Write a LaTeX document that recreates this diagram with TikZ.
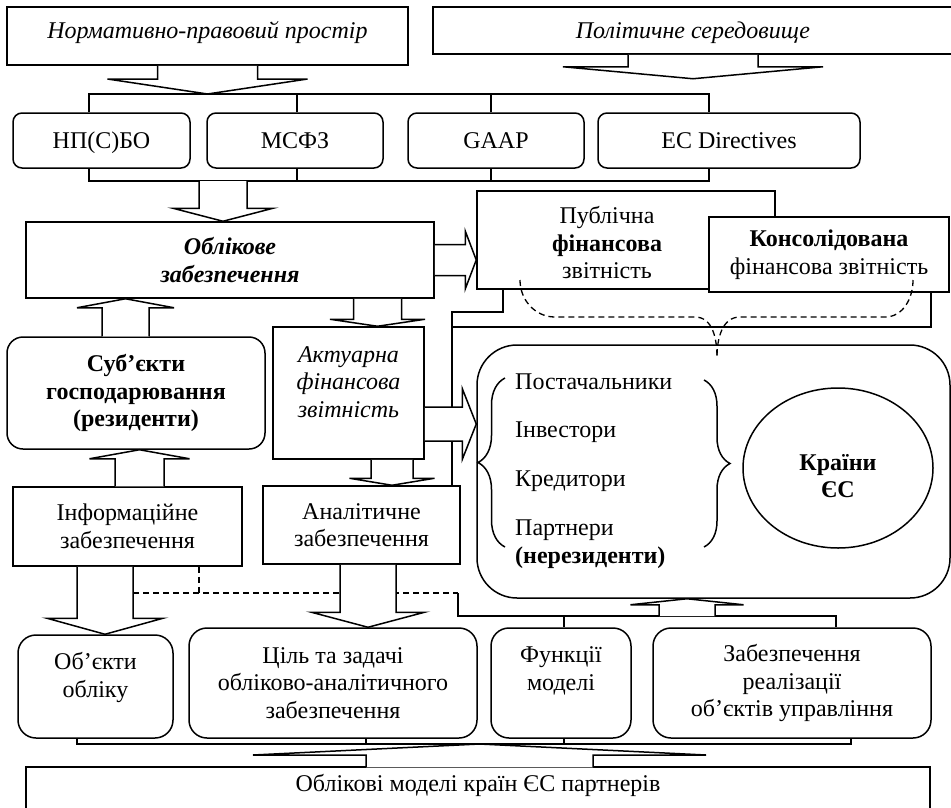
\documentclass[tikz,border=0pt]{standalone}
\usepackage{fontspec}
\setmainfont{Liberation Serif}
\usetikzlibrary{positioning, calc, shapes.geometric, decorations.pathreplacing}

\newcommand{\bigtext}{\fontsize{24}{27.5}\selectfont}

\tikzset{
  every node/.style={font=\bigtext},
  box/.style={draw, line width=1.5pt, fill=white, inner sep=0pt, align=center},
  rbox/.style={box, rounded corners=9pt},
  stdbox/.style={rbox, minimum height=55pt, text height=18pt, text depth=3pt},
  item/.style={anchor=base west, inner sep=0pt},
  line/.style={line width=1.5pt},
  dashline/.style={line width=1.3pt, dash pattern=on 6pt off 4pt},
  fat/.style={line width=1.5pt, fill=white},
}

% wide hollow arrow: start, tip, half shaft, half head, head length
\newcommand{\fatarrow}[5]{%
  \coordinate (fa-h) at ($(#2)!#5!(#1)$);
  \draw[fat] ($(#1)!#3!90:(#2)$) -- ($(fa-h)!#3!90:(#2)$) -- ($(fa-h)!#4!90:(#2)$)
    -- (#2) -- ($(fa-h)!#4!-90:(#2)$) -- ($(fa-h)!#3!-90:(#2)$) -- ($(#1)!#3!-90:(#2)$);
}

\begin{document}
\begin{tikzpicture}[x=1pt, y=-1pt]
\clip (0,0) rectangle (951,807);

% top row
\node[box, font=\bigtext\itshape, minimum width=401pt, minimum height=58pt, text height=16pt, text depth=12pt] (norm) at (207.5,36) {Нормативно-правовий простір};
\node[box, font=\bigtext\itshape, minimum width=520pt, minimum height=47pt, text height=18pt, text depth=3pt] (polit) at (693,30.5) {Політичне середовище};

% standards
\node[stdbox, minimum width=177pt] (npsbo) at (101.5,140.5) {НП(С)БО};
\node[stdbox, minimum width=176pt] (msfz) at (295,140.5) {МСФЗ};
\node[stdbox, minimum width=176pt] (gaap) at (496,140.5) {GAAP};
\node[stdbox, minimum width=262pt] (ecdir) at (729,140.5) {EC Directives};

% middle
\node[box, font=\bigtext\bfseries\itshape, minimum width=408pt, minimum height=76pt] (oblik) at (230,260) {Облікове\\забезпечення};
\node[box, minimum width=298pt, minimum height=98pt,
  label={[align=center, xshift=-19pt, yshift=-3pt]center:{Публічна\\\textbf{фінансова}\\звітність}}] (pub) at (626,240) {};
\node[box, minimum width=240pt, minimum height=75pt] (kons) at (829,254.5) {\textbf{Консолідована}\\фінансова звітність};
\node[box, minimum width=151pt, minimum height=132pt,
  label={[font=\bigtext\itshape, align=center, yshift=11pt]center:{Актуарна\\фінансова\\звітність}}] (aktuar) at (348.5,393) {};
\node[rbox, rounded corners=16pt, font=\bigtext\bfseries, minimum width=258pt, minimum height=112pt] (subj) at (136,393) {Суб’єкти\\господарювання\\(резиденти)};
\node[box, minimum width=229pt, minimum height=79pt] (info) at (127.5,526.5) {Інформаційне\\забезпечення};
\node[box, minimum width=197pt, minimum height=78pt] (anal) at (361.5,525) {Аналітичне\\забезпечення};

% users of the reports
\node[box, rounded corners=40pt, minimum width=473pt, minimum height=253pt] (users) at (713.5,471.5) {};
\node[item] (post) at (515,389) {Постачальники};
\node[item] (inv) at (515,437) {Інвестори};
\node[item] (kred) at (515,486) {Кредитори};
\node[item, align=left] (part) at (515,563) {Партнери\\\textbf{(нерезиденти)}};
\node[draw, ellipse, line width=1.5pt, minimum width=190pt, minimum height=160pt, inner sep=0pt,
  label={[font=\bigtext\bfseries, align=center, yshift=-8pt]center:{Країни\\ЄС}}] (eu) at (838,468) {};
\draw[line, decorate, decoration={brace, amplitude=27pt}] (505,547) -- (505,378);
\draw[line, decorate, decoration={brace, amplitude=26pt}] (704,380) -- (704,547);

% bottom row
\node[rbox, rounded corners=18pt, minimum width=155pt, minimum height=103pt,
  label={[align=center, yshift=9pt]center:{Об’єкти\\обліку}}] (obj) at (95.5,686.5) {};
\node[rbox, rounded corners=18pt, minimum width=288pt, minimum height=110pt] (cil) at (333,683) {Ціль та задачі\\обліково-аналітичного\\забезпечення};
\node[rbox, rounded corners=18pt, minimum width=140pt, minimum height=110pt,
  label={[align=center, yshift=12pt]center:{Функції\\моделі}}] (func) at (561,683) {};
\node[rbox, rounded corners=18pt, minimum width=278pt, minimum height=110pt] (zab) at (792,683) {Забезпечення\\реалізації\\об’єктів управління};
\node[box, minimum width=904pt, minimum height=73pt,
  label={[yshift=18pt]center:Облікові моделі країн ЄС партнерів}] (models) at (478,803.5) {};

% combs
\coordinate (ta) at (89,94);  \coordinate (tb) at (297,94);
\coordinate (tc) at (491,94); \coordinate (td) at (709,94);
\draw[line] (npsbo.north -| ta) -- (ta) -- (td) -- (ecdir.north -| td);
\draw[line] (msfz.north -| tb) -- (tb);
\draw[line] (gaap.north -| tc) -- (tc);
\coordinate (ba) at (89,181);  \coordinate (bb) at (297,181);
\coordinate (bc) at (491,181); \coordinate (bd) at (709,181);
\draw[line] (npsbo.south -| ba) -- (ba) -- (bd) -- (ecdir.south -| bd);
\draw[line] (msfz.south -| bb) -- (bb);
\draw[line] (gaap.south -| bc) -- (bc);
\coordinate (ca) at (77,744);  \coordinate (cb) at (366,744);
\coordinate (cc) at (564,744); \coordinate (cd) at (851,744);
\draw[line] (obj.south -| ca) -- (ca) -- (cd) -- (zab.south -| cd);
\draw[line] (cil.south -| cb) -- (cb);
\draw[line] (func.south -| cc) -- (cc);

% reports to analysis
\coordinate (pa) at (503,312); \coordinate (va) at (452,312); \coordinate (ka) at (931,327);
\draw[line] (pub.south -| pa) -- (pa) -- (va) -- (va |- anal.north);
\draw[line] (kons.south -| ka) -- (ka) -- (ka -| va);

% dashed links
\draw[dashline] (520,280) to[out=-90, in=180] (555,317) -- (695,317) to[out=0, in=90] (717,357);
\draw[dashline] (913,280) to[out=-90, in=0] (885,317) -- (740,317) to[out=180, in=90] (717,357);
\coordinate (di) at (199,593); \coordinate (dl) at (133,593); \coordinate (da) at (458,593);
\draw[dashline] (info.south -| di) -- (di);
\draw[dashline] (dl) -- (da);
\coordinate (fa) at (564,616); \coordinate (fb) at (836,616);
\draw[line] (da) -- (da |- fa) -- (fb) -- (zab.north -| fb);
\draw[line] (fa) -- (func.north -| fa);

% wide arrows
\coordinate (tn) at (norm.south |- 0,94);
\fatarrow{norm.south}{tn}{50pt}{100pt}{15pt}
\coordinate (tp) at ($(polit.south)+(0,24)$);
\fatarrow{polit.south}{tp}{65pt}{130pt}{12pt}
\coordinate (bo) at (223,181); \coordinate (bo2) at (bo |- oblik.north);
\fatarrow{bo}{bo2}{24pt}{50pt}{13pt}
\coordinate (op) at (pub.west |- oblik.east);
\fatarrow{oblik.east}{op}{15.5pt}{29pt}{11pt}
\coordinate (oa) at ($(aktuar.north)+(29,0)$); \coordinate (oa2) at (oa |- oblik.south);
\fatarrow{oa2}{oa}{24pt}{47.5pt}{7pt}
\coordinate (so) at ($(subj.north)+(-10.5,0)$); \coordinate (so2) at (so |- oblik.south);
\fatarrow{so}{so2}{23.5pt}{48.5pt}{9pt}
\coordinate (is) at ($(info.north)+(12,0)$); \coordinate (is2) at (is |- subj.south);
\fatarrow{is}{is2}{24.5pt}{50pt}{9pt}
\coordinate (aa) at ($(anal.north)+(30.5,0)$); \coordinate (aa2) at (aa |- aktuar.south);
\fatarrow{aa2}{aa}{21pt}{42.5pt}{7pt}
\coordinate (au) at ($(aktuar.east)+(0,31)$); \coordinate (au2) at (au -| users.west);
\fatarrow{au}{au2}{17pt}{35.5pt}{14pt}
\coordinate (io) at ($(info.south)+(-22.5,0)$); \coordinate (io2) at (io |- obj.north);
\fatarrow{io}{io2}{28pt}{58pt}{16pt}
\coordinate (ac) at ($(anal.south)+(6.5,0)$); \coordinate (ac2) at (ac |- cil.north);
\fatarrow{ac}{ac2}{28pt}{56.5pt}{15pt}
\coordinate (fu) at (687,616); \coordinate (fu2) at (fu |- users.south);
\fatarrow{fu}{fu2}{28pt}{56.5pt}{6pt}
\coordinate (mc) at (479.5,744); \coordinate (mc2) at ($(mc |- models.north)+(0,1)$);
\fatarrow{mc2}{mc}{113.5pt}{226.5pt}{11pt}
\end{tikzpicture}
\end{document}
